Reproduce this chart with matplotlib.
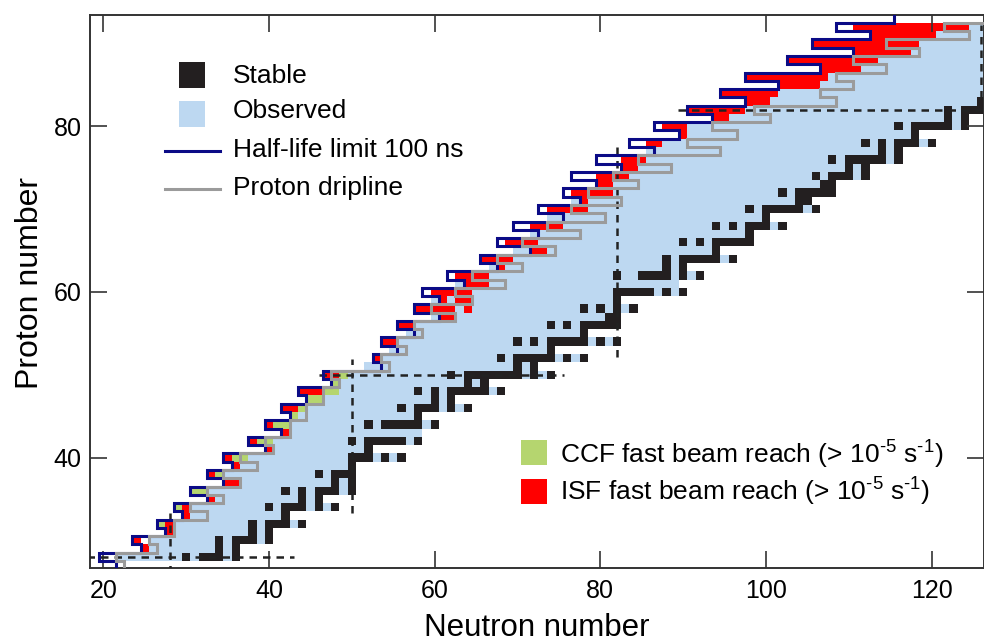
import numpy as np
import matplotlib
matplotlib.use("Agg")
import matplotlib.pyplot as plt
from matplotlib.colors import ListedColormap, BoundaryNorm
from matplotlib.patches import Rectangle

plt.rcParams['font.family'] = ['Liberation Sans', 'DejaVu Sans']
plt.rcParams['mathtext.fontset'] = 'custom'
plt.rcParams['mathtext.rm'] = 'Liberation Sans'
plt.rcParams['mathtext.it'] = 'Liberation Sans:italic'
plt.rcParams['mathtext.bf'] = 'Liberation Sans:bold'

# ---- data -------------------------------------------------------------
# rows used for the two boundary lines (Z = 27 ... 93)
line_Z = list(range(27, 94))
halflife_N = [22, 20, 25, 24, 28, 27, 30, 29, 33, 31, 35, 33, 36, 35, 40, 38, 42,
              40, 43, 42, 45, 44, 48, 47, 54, 53, 56, 54, 58, 56, 61, 58, 61, 59,
              64, 62, 68, 66, 72, 68, 73, 70, 76, 73, 78, 76, 80, 77, 83, 80, 87,
              84, 90, 87, 94, 91, 98, 95, 102, 98, 107, 103, 111, 106, 113, 109, 116]
dripline_N = [23, 22, 27, 26, 29, 29, 33, 31, 35, 33, 37, 35, 39, 37, 41, 40, 43,
              43, 45, 45, 47, 47, 49, 48, 55, 54, 57, 56, 59, 58, 63, 60, 65, 63,
              69, 65, 71, 68, 75, 71, 78, 74, 81, 77, 83, 79, 85, 82, 89, 85, 95,
              91, 97, 94, 101, 99, 109, 107, 111, 109, 115, 111, 119, 115, 125, 122, 128]

# rows with nuclide cells (Z = 28 ... 92)
cell_Z = list(range(28, 93))
observed_lo = [22, 26, 26, 29, 29, 31, 31, 34, 33, 37, 35, 37, 38, 41, 41, 43, 43,
               44, 45, 47, 49, 49, 50, 52, 54, 55, 56, 57, 58, 60, 60, 60, 62, 63,
               65, 67, 68, 70, 73, 72, 76, 74, 77, 77, 80, 82, 83, 85, 85, 86, 88,
               91, 91, 96, 98, 101, 102, 107, 108, 112, 114, 118, 119, 121, 125]
observed_hi = [36, 36, 40, 40, 44, 42, 48, 46, 50, 50, 50, 50, 56, 52, 58, 58, 60,
               58, 64, 62, 68, 66, 74, 72, 78, 74, 82, 78, 82, 82, 84, 82, 90, 89,
               92, 90, 96, 94, 98, 98, 102, 100, 106, 105, 108, 108, 112, 112, 116,
               116, 120, 118, 124, 124, 126, 126, 127, 127, 127, 127, 127, 127, 127,
               127, 127]

stable_N = {
    28: [30, 32, 33, 34, 36], 29: [34, 36], 30: [34, 36, 37, 38, 40], 31: [38, 40],
    32: [38, 40, 41, 42, 44], 33: [42], 34: [40, 42, 43, 44, 46, 48], 35: [44, 46],
    36: [42, 44, 46, 47, 48, 50], 37: [48, 50], 38: [46, 48, 49, 50], 39: [50],
    40: [50, 51, 52, 54, 56], 41: [52], 42: [50, 52, 53, 54, 55, 56, 58],
    44: [52, 54, 55, 56, 57, 58, 60], 45: [58], 46: [56, 58, 59, 60, 62, 64],
    47: [60, 62], 48: [58, 60, 62, 63, 64, 65, 66, 68], 49: [64, 66],
    50: [62, 64, 65, 66, 67, 68, 69, 70, 72, 74], 51: [70, 72],
    52: [68, 70, 71, 72, 73, 74, 76, 78], 53: [74],
    54: [70, 72, 74, 75, 76, 77, 78, 80, 82], 55: [78],
    56: [74, 76, 78, 79, 80, 81, 82], 57: [81, 82], 58: [78, 80, 82, 84], 59: [82],
    60: [82, 83, 84, 85, 86, 88, 90], 62: [82, 85, 86, 87, 88, 90, 92],
    63: [88, 90], 64: [88, 90, 91, 92, 93, 94, 96], 65: [94],
    66: [90, 92, 94, 95, 96, 97, 98], 67: [98], 68: [94, 96, 98, 99, 100, 102],
    69: [100], 70: [98, 100, 101, 102, 103, 104, 106], 71: [104, 105],
    72: [102, 104, 105, 106, 107, 108], 73: [107, 108],
    74: [106, 108, 109, 110, 112], 75: [110, 112],
    76: [108, 110, 111, 112, 113, 114, 116], 77: [114, 116],
    78: [112, 114, 116, 117, 118, 120], 79: [118],
    80: [116, 118, 119, 120, 121, 122, 124], 81: [122, 124],
    82: [122, 124, 125, 126], 83: [126],
}

# fast beam reach, inclusive N spans per Z
ccf_reach = {
    32: [(27, 27)], 34: [(29, 29)], 36: [(31, 32)], 38: [(34, 34)],
    40: [(36, 37)], 42: [(39, 40)], 44: [(41, 42)], 45: [(43, 43)],
    46: [(44, 44)], 47: [(45, 46)], 48: [(47, 48)], 49: [(48, 48)],
    50: [(49, 49)],
}
isf_reach = {
    29: [(25, 25)], 30: [(24, 24)], 31: [(28, 28)], 32: [(28, 28)],
    33: [(30, 30)], 34: [(30, 30)], 35: [(33, 33)], 37: [(35, 36)],
    38: [(33, 33)], 39: [(36, 36)], 40: [(35, 35)], 41: [(40, 40)],
    42: [(38, 38)], 43: [(42, 42)], 44: [(40, 40)], 46: [(42, 43)],
    48: [(44, 46)], 50: [(47, 48)], 52: [(53, 53)], 54: [(54, 55)],
    56: [(56, 57)], 57: [(61, 62)], 58: [(58, 62), (64, 64)],
    59: [(61, 61), (63, 64)], 60: [(60, 64)], 61: [(64, 66)],
    62: [(63, 66)], 63: [(68, 68)], 64: [(66, 69)], 65: [(72, 73)],
    66: [(69, 72)], 68: [(72, 75)], 70: [(74, 78)], 71: [(78, 78)],
    72: [(77, 81)], 73: [(80, 81)], 74: [(80, 83)], 75: [(83, 84)],
    76: [(83, 85)], 78: [(86, 87)], 79: [(90, 90)], 80: [(88, 90)],
    81: [(94, 95)], 82: [(91, 97)], 83: [(98, 100)], 84: [(95, 101)],
    85: [(102, 106)], 86: [(98, 107)], 87: [(107, 111)], 88: [(103, 113)],
    89: [(111, 117)], 90: [(106, 118)], 91: [(113, 120)], 92: [(111, 124)],
}

# magic-number guides: (value, from, to)
magic_rows = [(28, 18.0, 43.0), (50, 46.0, 75.6), (82, 89.4, 128.0)]
magic_cols = [(28, 26.0, 33.3), (50, 33.3, 51.9), (82, 52.1, 78.1), (126, 83.4, 92.3)]

# ---- colours ----------------------------------------------------------
c_obs = '#bdd8f1'
c_stable = '#231f20'
c_isf = '#ff0000'
c_ccf = '#b5d56f'
c_halflife = '#0b0b86'
c_drip = '#9b9b9b'

# ---- build the cell grid ---------------------------------------------
n_cols = np.arange(18, 129)
grid = np.zeros((len(cell_Z), len(n_cols)), dtype=int)
for i, z in enumerate(cell_Z):
    grid[i, (n_cols >= observed_lo[i]) & (n_cols <= observed_hi[i])] = 1
    for a, b in isf_reach.get(z, []):
        grid[i, (n_cols >= a) & (n_cols <= b)] = 3
    for a, b in ccf_reach.get(z, []):
        grid[i, (n_cols >= a) & (n_cols <= b)] = 4
    for n in stable_N.get(z, []):
        grid[i, n_cols == n] = 2
grid = np.ma.masked_equal(grid, 0)

cmap = ListedColormap(['white', c_obs, c_stable, c_isf, c_ccf])
norm = BoundaryNorm([-0.5, 0.5, 1.5, 2.5, 3.5, 4.5], cmap.N)

n_edges = np.append(n_cols - 0.5, n_cols[-1] + 0.5)
z_edges = np.append(np.array(cell_Z) - 0.5, cell_Z[-1] + 0.5)


def staircase(zs, ns):
    xs, ys = [], []
    for z, n in zip(zs, ns):
        xs += [n - 0.5, n - 0.5]
        ys += [z - 0.5, z + 0.5]
    return xs, ys


# ---- figure -------------------------------------------------------------
fig = plt.figure(figsize=(9.84, 6.43), dpi=100)
ax = fig.add_axes([90 / 984, 1 - 568.3 / 643, 893.5 / 984, 553.8 / 643])

ax.pcolormesh(n_edges, z_edges, grid, cmap=cmap, norm=norm, zorder=1)

dash = (0, (3.0, 2.4))
for z, a, b in magic_rows:
    ax.plot([a, b], [z, z], color='#222222', lw=1.8, ls=dash, zorder=3)
for n, a, b in magic_cols:
    ax.plot([n, n], [a, b], color='#222222', lw=1.8, ls=dash, zorder=3)

hx, hy = staircase(line_Z, halflife_N)
ax.plot(hx, hy, color=c_halflife, lw=2.2, solid_joinstyle='miter', zorder=4)
dx, dy = staircase(line_Z, dripline_N)
ax.plot(dx, dy, color=c_drip, lw=2.2, solid_joinstyle='miter', zorder=5)

ax.set_xlim(18.39, 126.25)
ax.set_ylim(26.62, 93.51)
ax.set_xticks([20, 40, 60, 80, 100, 120])
ax.set_yticks([40, 60, 80])
ax.tick_params(direction='in', length=12, width=1.2, top=True, right=True,
               labelsize=18, color='#333333')
ax.tick_params(axis='x', pad=8)
ax.tick_params(axis='y', pad=6)
for s in ax.spines.values():
    s.set_linewidth(1.4)
    s.set_color('#333333')

fig.text(536.5 / 984, 1 - 636 / 643, 'Neutron number', ha='center',
         va='baseline', fontsize=22.5)
fig.text(30 / 984, 1 - 283 / 643, 'Proton number', ha='center', va='center',
         rotation=90, fontsize=23)

# ---- legend (axes fraction coordinates) ---------------------------------
def fx(px):
    return (px - 90) / 893.5


def fy(py):
    return (568.3 - py) / 553.8


def box(x0, x1, y0, y1, color):
    ax.add_patch(Rectangle((fx(x0), fy(y1)), fx(x1) - fx(x0), fy(y0) - fy(y1),
                           transform=ax.transAxes, facecolor=color,
                           edgecolor='none', zorder=6))


box(179, 205, 62, 88, c_stable)
box(179, 205, 100.5, 127, c_obs)
ax.plot([fx(165), fx(220)], [fy(150.5), fy(150.5)], transform=ax.transAxes,
        color=c_halflife, lw=2.2, zorder=6)
ax.plot([fx(165), fx(220)], [fy(188.6), fy(188.6)], transform=ax.transAxes,
        color=c_drip, lw=2.2, zorder=6)
legend_text = ['Stable', 'Observed', 'Half-life limit 100 ns', 'Proton dripline']
for label, py in zip(legend_text, [75.9, 111.5, 149.7, 187.8]):
    ax.text(fx(233), fy(py), label, transform=ax.transAxes, fontsize=19,
            va='center', ha='left', zorder=6)

box(521, 547, 439.6, 464.6, c_ccf)
box(521, 547, 478.6, 503.6, c_isf)
ax.text(fx(560), fy(455), r'CCF fast beam reach (> 10$^{\text{-5}}$ s$^{\text{-1}}$)',
        transform=ax.transAxes, fontsize=19, va='center', ha='left', zorder=6)
ax.text(fx(560), fy(492), r'ISF fast beam reach (> 10$^{\text{-5}}$ s$^{\text{-1}}$)',
        transform=ax.transAxes, fontsize=19, va='center', ha='left', zorder=6)

fig.savefig('out.png', dpi=100)
